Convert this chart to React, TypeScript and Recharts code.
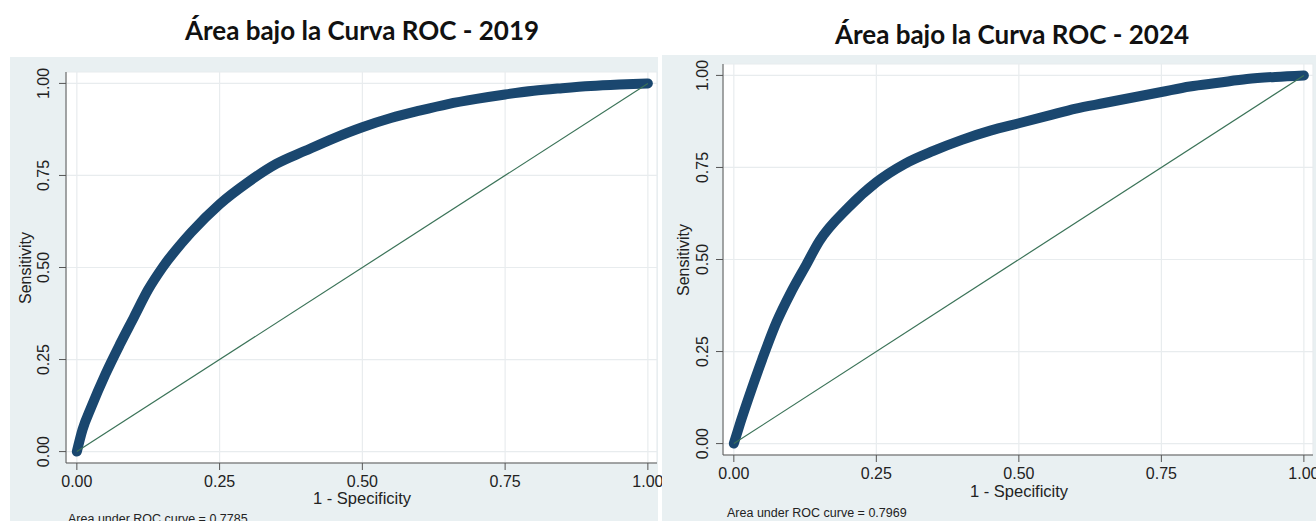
import React from "react";
import { LineChart, Line, XAxis, YAxis, CartesianGrid } from "recharts";

// Curva ROC 2019 (1 - especificidad / sensibilidad)
const fpr2019 = [0, 0.01, 0.025, 0.05, 0.075, 0.1, 0.125, 0.15, 0.2, 0.25, 0.3, 0.35, 0.4, 0.45, 0.5, 0.55, 0.6, 0.65, 0.7, 0.75, 0.8, 0.85, 0.9, 0.95, 1];
const tpr2019 = [0, 0.06, 0.12, 0.21, 0.29, 0.365, 0.44, 0.5, 0.595, 0.672, 0.732, 0.782, 0.817, 0.851, 0.881, 0.906, 0.926, 0.944, 0.958, 0.97, 0.98, 0.987, 0.993, 0.997, 1];

// Curva ROC 2024
const fpr2024 = [0, 0.01, 0.025, 0.05, 0.075, 0.1, 0.125, 0.15, 0.2, 0.25, 0.3, 0.35, 0.4, 0.45, 0.5, 0.55, 0.6, 0.65, 0.7, 0.75, 0.8, 0.85, 0.9, 0.95, 1];
const tpr2024 = [0, 0.05, 0.12, 0.23, 0.33, 0.41, 0.48, 0.55, 0.64, 0.71, 0.76, 0.795, 0.825, 0.85, 0.87, 0.89, 0.91, 0.925, 0.94, 0.955, 0.97, 0.98, 0.99, 0.996, 1];

const diagonal = [0, 1];
const ticks = [0, 0.25, 0.5, 0.75, 1];

const BG = "#e9f0f2";
const NAVY = "#1a476f";
const GREEN = "#3b7358";
const AXIS = "#555";
const FONT = "'Liberation Sans', Arial, sans-serif";
const EXTRA = 20; // room on the right so the last tick label is not clipped

type Cfg = {
  left: number;
  top: number;
  width: number;
  height: number;
  margin: { top: number; right: number; left: number; bottom: number };
  yWidth: number;
  yTickDx: number;
  xTickMargin: number;
  title: string;
  titleX: number;
  titleY: number;
  labelY: number;
  sensX: number;
  sensY: number;
  noteX: number;
  noteY: number;
  auc: string;
};

function RotTick(props: any) {
  const { x, y, payload, dx } = props;
  const tx = x + dx;
  return (
    <text x={tx} y={y} transform={`rotate(-90 ${tx} ${y})`} textAnchor="middle" fontSize={16} fill="#222" fontFamily={FONT}>
      {Number(payload.value).toFixed(2)}
    </text>
  );
}

function Panel({ cfg, fpr, tpr }: { cfg: Cfg; fpr: number[]; tpr: number[] }) {
  const curve = fpr.map((x, i) => ({ x, y: tpr[i] }));
  const diag = diagonal.map((v) => ({ x: v, y: v }));
  return (
    <>
      <div
        style={{
          position: "absolute",
          left: cfg.left,
          top: cfg.top,
          width: cfg.width,
          height: cfg.height,
          background: BG,
        }}
      />
      <div style={{ position: "absolute", left: cfg.left, top: cfg.top }}>
        <LineChart
          width={cfg.width + EXTRA}
          height={cfg.height}
          margin={{ ...cfg.margin, right: cfg.margin.right + EXTRA }}
        >
          <CartesianGrid fill="#fff" stroke="#e8ecee" strokeWidth={1.2} />
          <XAxis
            type="number"
            dataKey="x"
            domain={[-0.019, 1.016]}
            ticks={ticks}
            allowDataOverflow
            tickFormatter={(v) => Number(v).toFixed(2)}
            tick={{ fontSize: 16, fill: "#222", fontFamily: FONT }}
            tickSize={7}
            tickMargin={cfg.xTickMargin}
            stroke={AXIS}
            height={30}
          />
          <YAxis
            type="number"
            dataKey="y"
            domain={[-0.031, 1.031]}
            ticks={ticks}
            allowDataOverflow
            tick={<RotTick dx={cfg.yTickDx} />}
            tickSize={7}
            tickMargin={0}
            stroke={AXIS}
            width={cfg.yWidth}
          />
          <Line
            data={curve}
            dataKey="y"
            type="monotone"
            stroke={NAVY}
            strokeWidth={10}
            strokeLinecap="round"
            strokeLinejoin="round"
            dot={false}
            isAnimationActive={false}
          />
          <Line
            data={diag}
            dataKey="y"
            type="linear"
            stroke={GREEN}
            strokeWidth={1.2}
            dot={false}
            isAnimationActive={false}
          />
        </LineChart>
      </div>
      <div
        style={{
          position: "absolute",
          left: cfg.titleX - 250,
          width: 500,
          top: cfg.titleY - 17,
          textAlign: "center",
          fontFamily: "Lato, 'Open Sans', sans-serif",
          fontWeight: 700,
          fontSize: 26,
          color: "#111",
          lineHeight: "34px",
        }}
      >
        {cfg.title}
      </div>
      <div
        style={{
          position: "absolute",
          left: cfg.left + cfg.margin.left + cfg.yWidth + 46,
          width: 500,
          top: cfg.labelY - 10,
          textAlign: "center",
          fontFamily: FONT,
          fontSize: 16.5,
          color: "#222",
          lineHeight: "20px",
        }}
      >
        1 - Specificity
      </div>
      <div
        style={{
          position: "absolute",
          left: cfg.sensX - 60,
          top: cfg.sensY - 10,
          width: 120,
          textAlign: "center",
          transform: "rotate(-90deg)",
          fontFamily: FONT,
          fontSize: 16,
          color: "#222",
          lineHeight: "20px",
        }}
      >
        Sensitivity
      </div>
      <div
        style={{
          position: "absolute",
          left: cfg.noteX,
          top: cfg.noteY - 8,
          fontFamily: FONT,
          fontSize: 12.5,
          color: "#222",
          lineHeight: "16px",
          whiteSpace: "nowrap",
        }}
      >
        Area under ROC curve = {cfg.auc}
      </div>
    </>
  );
}

const left: Cfg = {
  left: 10,
  top: 57,
  width: 648,
  height: 464,
  margin: { top: 15, right: 1, left: 0, bottom: 28 },
  yWidth: 56,
  yTickDx: -10,
  xTickMargin: 6,
  title: "Área bajo la Curva ROC - 2019",
  titleX: 362,
  titleY: 30,
  labelY: 498,
  sensX: 26,
  sensY: 268,
  noteX: 68,
  noteY: 519,
  auc: "0.7785",
};

const right: Cfg = {
  left: 662,
  top: 55,
  width: 654,
  height: 466,
  margin: { top: 9, right: 3, left: 0, bottom: 36 },
  yWidth: 61,
  yTickDx: -8,
  xTickMargin: 6,
  title: "Área bajo la Curva ROC - 2024",
  titleX: 1012,
  titleY: 34,
  labelY: 491,
  sensX: 684,
  sensY: 260,
  noteX: 727,
  noteY: 513,
  auc: "0.7969",
};

export default function App() {
  return (
    <div style={{ position: "absolute", left: 0, top: 0, width: 1316, height: 521, background: "#fff", overflow: "hidden" }}>
      <Panel cfg={left} fpr={fpr2019} tpr={tpr2019} />
      <Panel cfg={right} fpr={fpr2024} tpr={tpr2024} />
    </div>
  );
}
